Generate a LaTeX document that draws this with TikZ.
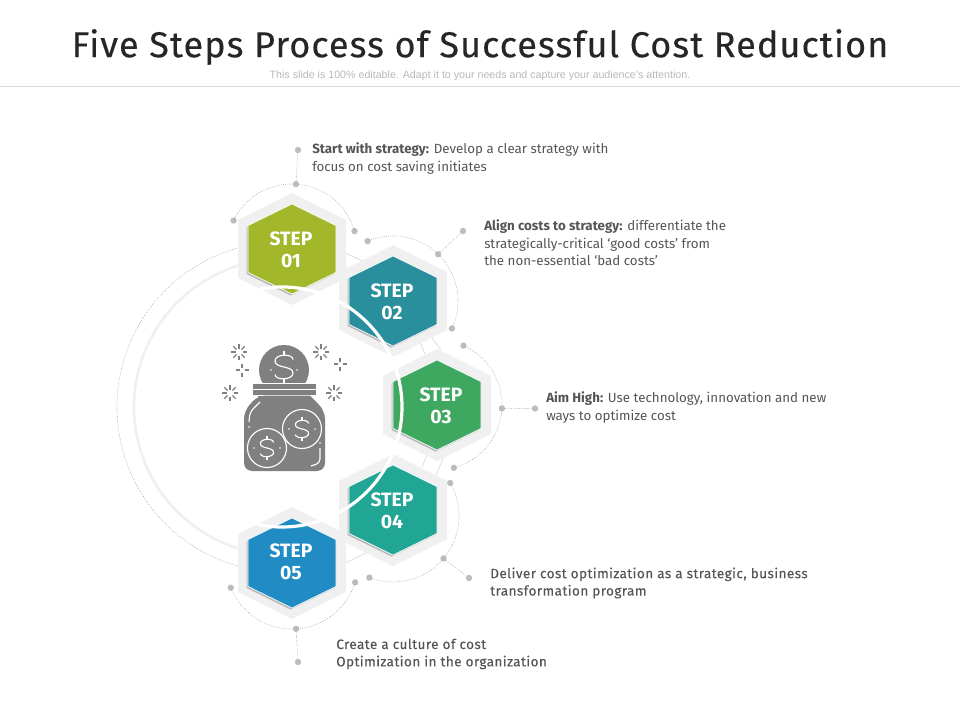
\documentclass[tikz,border=0pt]{standalone}
\usepackage{fontspec}
\setmainfont{Fira Sans}
\newfontfamily\titlefont[LetterSpace=3,FakeBold=.25]{Fira Sans}
\newfontfamily\noteFont{Liberation Sans}
\newfontfamily\wideFont[LetterSpace=3,FakeBold=.15]{Fira Sans}
\usepackage{tikz}
\usetikzlibrary{calc}
\definecolor{stepa}{HTML}{A3B72A}
\definecolor{stepb}{HTML}{2A8F9C}
\definecolor{stepc}{HTML}{3FA860}
\definecolor{stepd}{HTML}{21A594}
\definecolor{stepe}{HTML}{218BC4}
\definecolor{iconc}{HTML}{808080}
\definecolor{bandc}{HTML}{F0F0F0}
\definecolor{dotc}{HTML}{BDBDBD}
\definecolor{textc}{HTML}{555555}
\newcommand{\hexa}[3]{+(0,-#2) -- +(#1,-#3) -- +(#1,#3) -- +(0,#2) -- +(-#1,#3) -- +(-#1,-#3) -- cycle}
\newcommand{\dollar}[2]{%
\draw [iconline,shift={(#1)},scale=#2] (6,-5) .. controls (6,-9) and (-6,-9) .. (-6,-4) .. controls (-6,1) and (6,-1) .. (6,4) .. controls (6,9) and (-6,9) .. (-6,5);
\draw [iconline,shift={(#1)},scale=#2] (0,-11) -- (0,-8) (0,8) -- (0,11);}
\newcommand{\burst}[1]{%
\foreach \a in {0,45,...,315} {\draw [icongray,shift={(#1)}] (\a:3.5) -- (\a:8);}}
\newcommand{\twinkle}[1]{%
\foreach \a in {0,90,180,270} {\draw [icongray,shift={(#1)}] (\a:2.5) -- (\a:6.5);}}
\tikzset{
  dotnode/.style={circle,fill=dotc,inner sep=0pt,minimum size=4.8pt},
  ringline/.style={black!38,line width=.45pt,densely dotted},
  bandline/.style={bandc,line width=2pt},
  linkline/.style={dotc!60,line width=.5pt},
  hexback/.style={fill=bandc},
  hexshade/.style={fill=black!28},
  hexfront/.style={draw=white,line width=.5pt},
  steplabel/.style={text=white,font=\fontsize{14.5}{16.5}\selectfont\bfseries,align=center,inner sep=0pt},
  textnote/.style={text=textc,font=\fontsize{10}{13.2}\selectfont,align=left,anchor=west,inner sep=0pt},
  widenote/.style={textnote,font=\wideFont\fontsize{10.2}{13}\selectfont},
  iconline/.style={white,line width=.85pt},
  icongray/.style={iconc,line width=.9pt},
}
\begin{document}
\begin{tikzpicture}[x=.75pt,y=-.75pt]
\useasboundingbox (0,0) rectangle (960,720);
% header
\node [font=\titlefont\fontsize{27}{30}\selectfont,text=black!85,inner sep=0pt] (Title) at (480,47) {Five Steps Process of Successful Cost Reduction};
\node [font=\noteFont\fontsize{8}{10}\selectfont,text=black!28,inner sep=0pt] (Sub) at (480,76) {This slide is 100\% editable. Adapt it to your needs and capture your audience’s attention.};
\coordinate (LineL) at (0,86);
\coordinate (LineR) at (960,86);
\draw [black!15,line width=.6pt] (LineL) -- (LineR);
% centres
\coordinate (C) at (282,407);
\coordinate (U1) at (292,249);
\coordinate (U2) at (393,301);
\coordinate (U3) at (437,405);
\coordinate (U4) at (393,516);
\coordinate (U5) at (292,563);
\coordinate (V4) at (393,510);
% big rings
\draw [ringline] ($(C)+(254:165)$) arc [start angle=254,end angle=105,radius=165];
\draw [bandline] ($(C)+(254:148)$) arc [start angle=254,end angle=105,radius=148];
% bits between the hexagons
\coordinate (B1) at (345,253);
\coordinate (B2) at (363,261);
\coordinate (B3) at (419,340);
\coordinate (B4) at (425,354);
\coordinate (B5) at (432,338);
\coordinate (B6) at (441,350);
\coordinate (B7) at (427,455);
\coordinate (B8) at (422,467);
\coordinate (B9) at (444,456);
\coordinate (B10) at (436,475);
\coordinate (B11) at (345,563);
\coordinate (B12) at (368,552);
\draw [linkline] (B1) -- (B2);
\draw [linkline] (B3) -- (B4);
\draw [linkline] (B5) -- (B6);
\draw [linkline] (B7) -- (B8);
\draw [linkline] (B9) -- (B10);
\draw [linkline] (B11) -- (B12);
% dotted arcs
\node [dotnode] (A1) at ($(U1)+(206:65)$) {};
\node [dotnode] (A2) at ($(U1)+(273.5:65)$) {};
\node [dotnode] (A3) at ($(U1)+(344:65)$) {};
\node [dotnode] (A4) at (298,150) {};
\draw [ringline] (A1.center) arc [start angle=206,end angle=344,radius=65];
\draw [ringline] (A2) -- (A4);
\node [dotnode] (D1) at ($(U2)+(247:65)$) {};
\node [dotnode] (D2) at ($(U2)+(314:65)$) {};
\node [dotnode] (D3) at ($(U2)+(385:65)$) {};
\node [dotnode] (D4) at (463,231) {};
\draw [ringline] (D1.center) arc [start angle=247,end angle=385,radius=65];
\draw [ringline] (D2) -- (D4);
\node [dotnode] (E1) at ($(U3)+(-66:65)$) {};
\node [dotnode] (E2) at ($(U3)+(3:65)$) {};
\node [dotnode] (E3) at ($(U3)+(75:65)$) {};
\node [dotnode] (E4) at (535,408.5) {};
\draw [ringline] (E1.center) arc [start angle=-66,end angle=75,radius=65];
\draw [ringline] (E2) -- (E4);
\node [dotnode] (F1) at ($(U4)+(-30:66)$) {};
\node [dotnode] (F2) at ($(U4)+(40:66)$) {};
\node [dotnode] (F3) at ($(U4)+(111:66)$) {};
\node [dotnode] (F4) at (469,578) {};
\draw [ringline] (F1.center) arc [start angle=-30,end angle=111,radius=66];
\draw [ringline] (F2) -- (F4);
\node [dotnode] (G1) at ($(U5)+(17:66)$) {};
\node [dotnode] (G2) at ($(U5)+(86.5:66)$) {};
\node [dotnode] (G3) at ($(U5)+(158:66)$) {};
\node [dotnode] (G4) at (298,662) {};
\draw [ringline] (G1.center) arc [start angle=17,end angle=158,radius=66];
\draw [ringline] (G2) -- (G4);
% hexagons
\fill [hexback] (U1) \hexa{54}{56}{29};
\fill [hexback] (U2) \hexa{54}{56}{29};
\fill [hexback] (U3) \hexa{54}{56}{29};
\fill [hexback] (V4) \hexa{54}{56}{29};
\fill [hexback] (U5) \hexa{54}{56}{29};
\fill [hexshade] ($(U1)+(-1.5,1.5)$) \hexa{44}{45}{23.5};
\fill [hexshade] ($(U2)+(-1.5,1.5)$) \hexa{44}{45}{23.5};
\fill [hexshade] ($(U3)+(-1.5,1.5)$) \hexa{44}{45}{23.5};
\fill [hexshade] ($(V4)+(-1.5,1.5)$) \hexa{44}{45}{23.5};
\fill [hexshade] ($(U5)+(-1.5,1.5)$) \hexa{44}{45}{23.5};
\filldraw [hexfront,fill=stepa] (U1) \hexa{44}{45}{23.5};
\filldraw [hexfront,fill=stepb] (U2) \hexa{44}{45}{23.5};
\filldraw [hexfront,fill=stepc] (U3) \hexa{44}{45}{23.5};
\filldraw [hexfront,fill=stepd] (V4) \hexa{44}{45}{23.5};
\filldraw [hexfront,fill=stepe] (U5) \hexa{44}{45}{23.5};
% white ring on top
\draw [white,line width=2.4pt] ($(C)+(-100.5:120)$) arc [start angle=-100.5,end angle=102,radius=120];
\node [steplabel] (S1) at (291,250) {STEP\\01};
\node [steplabel] (S2) at (392,302) {STEP\\02};
\node [steplabel] (S3) at (441,406) {STEP\\03};
\node [steplabel] (S4) at (392,511) {STEP\\04};
\node [steplabel] (S5) at (291,562) {STEP\\05};
% texts
\node [textnote] (T1) at (312,158.5) {\textbf{Start with strategy:} Develop a clear strategy with\\focus on cost saving initiates};
\node [textnote] (T2) at (484,243) {\textbf{Align costs to strategy:} differentiate the\\strategically-critical ‘good costs’ from\\the non-essential ‘bad costs’};
\node [textnote] (T3) at (546,407.5) {\textbf{Aim High:} Use technology, innovation and new\\ways to optimize cost};
\node [widenote] (T4) at (490,583) {Deliver cost optimization as a strategic, business\\transformation program};
\node [widenote] (T5) at (336,654) {Create a culture of cost\\Optimization in the organization};
% jar icon
\begin{scope}
\clip (250,340) rectangle (320,382.5);
\fill [iconc] (284,370) circle [radius=25];
\dollar{284,367}{1.5}
\end{scope}
\fill [iconc] (253,384) rectangle (316,388.5);
\fill [iconc] (253,390) rectangle (316,394.5);
\fill [iconc,rounded corners=6pt] (258,395.5) [sharp corners] -- (310,395.5) [rounded corners=6pt] -- (325,411) -- (325,471) -- (244,471) -- (244,411) -- cycle;
\fill [iconc] (258,395.5) rectangle (310,399);
\draw [iconline,rounded corners=3pt] (260,402) -- (250,412) -- (249,422);
\fill [white] (249,427) circle [radius=.9];
\draw [iconline,rounded corners=3pt] (320,448) -- (320,463) -- (311,466);
\fill [white] (320,443) circle [radius=.9];
\draw [iconline] (302,429) circle [radius=19.5];
\draw [iconline] (267,448) circle [radius=19.5];
\dollar{302,429}{1.1}
\dollar{267,448}{1.1}
\fill [white] (289,429) circle [radius=.9] (315,429) circle [radius=.9];
\fill [white] (254,448) circle [radius=.9] (280,448) circle [radius=.9];
\fill [white] (271,370) circle [radius=.9] (297,370) circle [radius=.9];
\burst{239,352}
\burst{321,352}
\burst{230,393}
\burst{334,393}
\twinkle{242,370}
\twinkle{340,364}
\end{tikzpicture}
\end{document}
